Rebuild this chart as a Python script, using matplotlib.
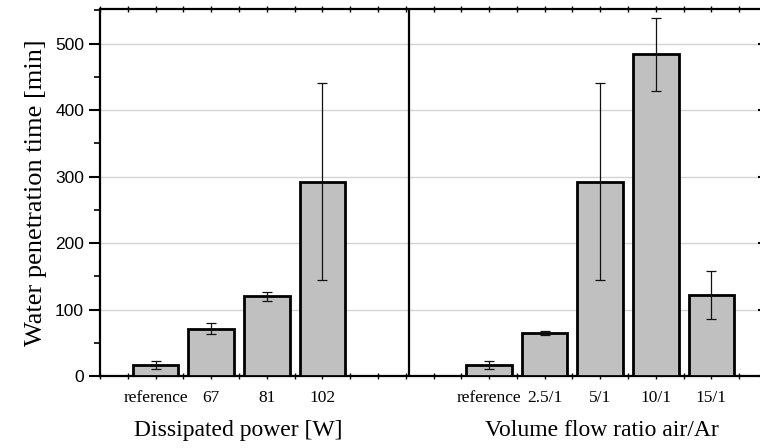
import matplotlib
matplotlib.use("Agg")
import matplotlib.pyplot as plt
import numpy as np
from matplotlib.ticker import MultipleLocator, NullLocator

# Data
power_labels = ["reference", "67", "81", "102"]
power_values = [17, 71, 120, 292]
power_errors = [6, 8, 7, 148]

flow_labels = ["reference", "2.5/1", "5/1", "10/1", "15/1"]
flow_values = [17, 64, 292, 484, 122]
flow_errors = [6, 3, 148, 55, 36]

power_pos = [1, 2, 3, 4]
flow_pos = [7, 8, 9, 10, 11]

W, H = 760, 448
fig = plt.figure(figsize=(W / 100, H / 100), dpi=100)
left, right = 100, 767
bottom, top = 376, 9
ax = fig.add_axes([left / W, (H - bottom) / H, (right - left) / W, (bottom - top) / H])

bar_kw = dict(width=0.82, color="#c0c0c0", edgecolor="black", linewidth=2.0, zorder=3)
err_kw = dict(ecolor="#111111", elinewidth=0.9, capthick=0.9)
ax.bar(power_pos, power_values, yerr=power_errors, capsize=3.5, error_kw=err_kw, **bar_kw)
ax.bar(flow_pos, flow_values, yerr=flow_errors, capsize=3.5, error_kw=err_kw, **bar_kw)

ax.set_xlim(0, 12)
ax.set_ylim(0, 552)
ax.axvline(5.56, color="black", linewidth=1.6, zorder=4)

ax.set_xticks(power_pos + flow_pos)
ax.set_xticklabels(power_labels + flow_labels, family="Liberation Serif", fontsize=12.5)
ax.xaxis.set_minor_locator(MultipleLocator(0.5))
ax.tick_params(axis="x", which="both", direction="inout", length=4, width=1.0, top=True, pad=8)

ax.yaxis.set_major_locator(MultipleLocator(100))
ax.yaxis.set_minor_locator(MultipleLocator(50))
ax.tick_params(axis="y", which="major", direction="out", length=8, width=1.5, labelsize=12.5)
ax.tick_params(axis="y", which="minor", direction="out", length=4, width=1.2)
for lab in ax.get_yticklabels():
    lab.set_family("Liberation Sans")

# right-side inward ticks
ax2 = ax.twinx()
ax2.set_ylim(ax.get_ylim())
ax2.yaxis.set_major_locator(MultipleLocator(100))
ax2.yaxis.set_minor_locator(NullLocator())
ax2.tick_params(axis="y", direction="in", length=6.5, width=1.5, labelright=False)
for s in ax2.spines.values():
    s.set_visible(False)

ax.grid(axis="y", which="major", color="#d4d4d4", linewidth=1.0, zorder=0)
ax.set_axisbelow(True)
for s in ax.spines.values():
    s.set_linewidth(1.6)

ax.set_ylabel("Water penetration time [min]", family="Liberation Serif", fontsize=19, labelpad=6)

fig.text(238 / W, 1 - 430 / H, "Dissipated power [W]", family="Liberation Serif",
         fontsize=17, ha="center", va="center")
fig.text(602 / W, 1 - 430 / H, "Volume flow ratio air/Ar", family="Liberation Serif",
         fontsize=17, ha="center", va="center")

fig.savefig("out.png", dpi=100)
